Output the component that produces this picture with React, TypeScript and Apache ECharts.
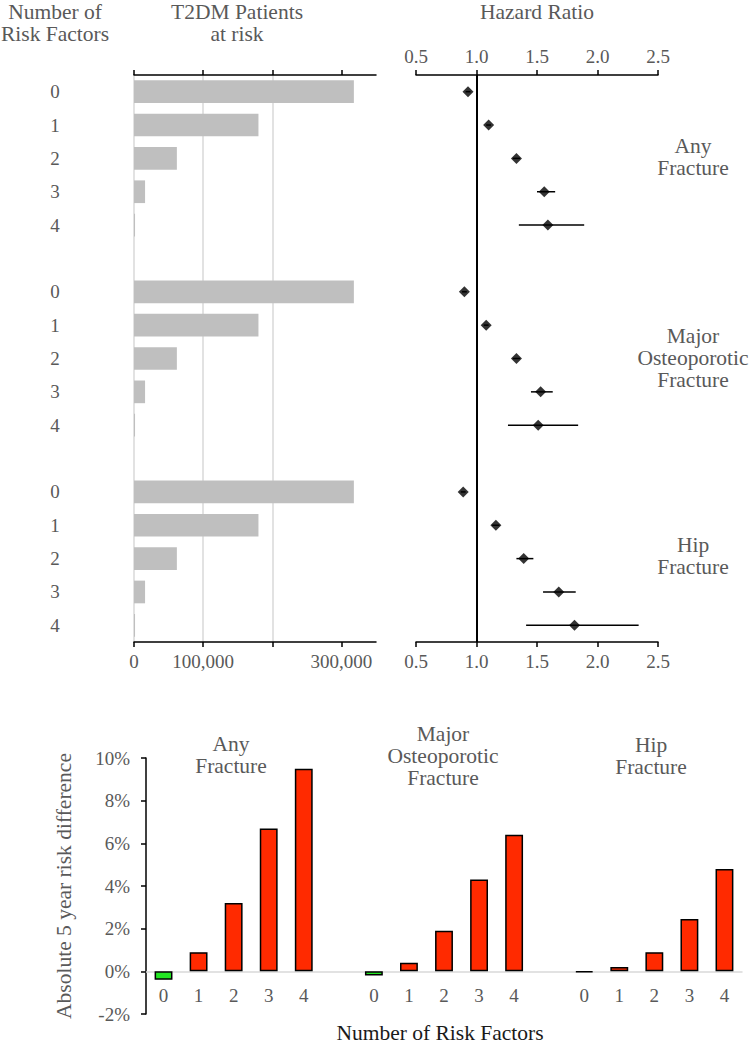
import React, { useEffect, useRef } from "react";
import * as echarts from "echarts";

// ---------- data ----------
const RISK_FACTORS = ["0", "1", "2", "3", "4"];
const OUTCOMES = ["Any\nFracture", "Major\nOsteoporotic\nFracture", "Hip\nFracture"];

// T2DM patients at risk by number of risk factors (same cohort for each outcome)
const PATIENTS_AT_RISK = [318000, 180000, 62000, 16000, 1500];
const PATIENT_TICKS = [0, 100000, 200000, 300000];
const PATIENT_LABELS = [0, 100000, 300000];

// Hazard ratios with 95% CI
const HR_ANY = [0.93, 1.1, 1.33, 1.56, 1.59];
const HR_ANY_LO = [0.91, 1.08, 1.3, 1.5, 1.35];
const HR_ANY_HI = [0.95, 1.12, 1.36, 1.65, 1.89];

const HR_MAJOR = [0.9, 1.08, 1.33, 1.53, 1.51];
const HR_MAJOR_LO = [0.88, 1.06, 1.3, 1.45, 1.26];
const HR_MAJOR_HI = [0.92, 1.1, 1.36, 1.63, 1.84];

const HR_HIP = [0.89, 1.16, 1.39, 1.68, 1.81];
const HR_HIP_LO = [0.87, 1.13, 1.33, 1.55, 1.41];
const HR_HIP_HI = [0.91, 1.19, 1.47, 1.82, 2.34];

// Absolute 5 year risk difference (%)
const RISK_DIFF_ANY = [-0.4, 0.9, 3.2, 6.7, 9.5];
const RISK_DIFF_MAJOR = [-0.2, 0.4, 1.9, 4.3, 6.4];
const RISK_DIFF_HIP = [-0.05, 0.2, 0.9, 2.45, 4.8];
const RISK_DIFF_MIN = -2;
const RISK_DIFF_MAX = 10;

// ---------- derived structures ----------
const HR = [HR_ANY, HR_MAJOR, HR_HIP];
const HR_LO = [HR_ANY_LO, HR_MAJOR_LO, HR_HIP_LO];
const HR_HI = [HR_ANY_HI, HR_MAJOR_HI, HR_HIP_HI];
const RISK_DIFF = [RISK_DIFF_ANY, RISK_DIFF_MAJOR, RISK_DIFF_HIP];

const CATEGORIES: string[] = [];
const CAT_GROUP: number[] = [];
const CAT_RF: number[] = [];
OUTCOMES.forEach((_, g) => {
  RISK_FACTORS.forEach((rf, i) => {
    CATEGORIES.push(`${g}|${rf}`);
    CAT_GROUP.push(g);
    CAT_RF.push(i);
  });
  if (g < OUTCOMES.length - 1) {
    CATEGORIES.push(`gap${g}`);
    CAT_GROUP.push(-1);
    CAT_RF.push(-1);
  }
});
const catLabel = (v: string) => (v.indexOf("|") >= 0 ? v.split("|")[1] : "");

const FONT = "'Liberation Serif', 'Times New Roman', 'DejaVu Serif', serif";
const GRAY = "#595959";

const BOTTOM_GRID_H = 256;

export default function App() {
  const ref = useRef<HTMLDivElement>(null);

  useEffect(() => {
    if (!ref.current) return;
    const chart = echarts.init(ref.current, undefined, { renderer: "svg" });

    const patientsData = CATEGORIES.map((_, k) =>
      CAT_GROUP[k] < 0 ? "-" : PATIENTS_AT_RISK[CAT_RF[k]]
    );
    const hrPoints: any[] = [];
    const hrCI: any[] = [];
    CATEGORIES.forEach((_, k) => {
      const g = CAT_GROUP[k];
      if (g < 0) return;
      const i = CAT_RF[k];
      hrPoints.push([HR[g][i], k]);
      hrCI.push([HR_LO[g][i], HR_HI[g][i], k]);
    });
    const diffData = CATEGORIES.map((_, k) => {
      const g = CAT_GROUP[k];
      if (g < 0) return "-";
      const v = RISK_DIFF[g][CAT_RF[k]];
      return {
        value: v,
        itemStyle: { color: v < 0 ? "#22E622" : "#FF2A00" },
      };
    });

    const tickLabel = { color: GRAY, fontSize: 19, fontFamily: FONT };
    const blackAxis = { show: true, lineStyle: { color: "#000", width: 1.5 } };

    const text = (t: string, x: number, y: number, fill = GRAY) => ({
      type: "text",
      x,
      y,
      silent: true,
      style: {
        text: t,
        fill,
        fontSize: 21.5,
        fontFamily: FONT,
        align: "center",
        verticalAlign: "middle",
        lineHeight: 22,
      },
    });

    // x-axis of the lower chart sits on the zero line
    const zeroOffset = -(BOTTOM_GRID_H * (0 - RISK_DIFF_MIN)) / (RISK_DIFF_MAX - RISK_DIFF_MIN);

    const option: any = {
      animation: false,
      textStyle: { fontFamily: FONT },
      grid: [
        { left: 134, top: 75, width: 242, height: 567 },
        { left: 416, top: 75, width: 242, height: 567 },
        { left: 146, top: 758, width: 596, height: BOTTOM_GRID_H },
      ],
      xAxis: [
        {
          gridIndex: 0,
          type: "value",
          position: "top",
          min: 0,
          max: 350000,
          interval: 100000,
          axisLine: blackAxis,
          axisTick: { show: true, length: 5, customValues: PATIENT_TICKS, lineStyle: { color: "#000", width: 1.5 } },
          axisLabel: { show: false },
          splitLine: { show: true, showMaxLine: false, lineStyle: { color: "#D9D9D9", width: 1.5 } },
        },
        {
          gridIndex: 0,
          type: "value",
          position: "bottom",
          min: 0,
          max: 350000,
          interval: 100000,
          axisLine: blackAxis,
          axisTick: { show: true, length: 5, customValues: PATIENT_TICKS, lineStyle: { color: "#000", width: 1.5 } },
          axisLabel: {
            ...tickLabel,
            margin: 10,
            customValues: PATIENT_LABELS,
            formatter: (v: number) => v.toLocaleString("en-US"),
          },
          splitLine: { show: false },
        },
        {
          gridIndex: 1,
          type: "value",
          position: "top",
          min: 0.5,
          max: 2.5,
          interval: 0.5,
          axisLine: blackAxis,
          axisTick: { show: true, length: 5, lineStyle: { color: "#000", width: 1.5 } },
          axisLabel: { ...tickLabel, margin: 9, formatter: (v: number) => v.toFixed(1) },
          splitLine: { show: false },
        },
        {
          gridIndex: 1,
          type: "value",
          position: "bottom",
          min: 0.5,
          max: 2.5,
          interval: 0.5,
          axisLine: blackAxis,
          axisTick: { show: true, length: 5, lineStyle: { color: "#000", width: 1.5 } },
          axisLabel: { ...tickLabel, margin: 10, formatter: (v: number) => v.toFixed(1) },
          splitLine: { show: false },
        },
        {
          gridIndex: 2,
          type: "category",
          data: CATEGORIES,
          position: "bottom",
          offset: zeroOffset,
          axisLine: { show: true, onZero: false, lineStyle: { color: "#D9D9D9", width: 1.5 } },
          axisTick: { show: false },
          axisLabel: { ...tickLabel, margin: 15, interval: 0, formatter: catLabel },
          splitLine: { show: false },
        },
      ],
      yAxis: [
        {
          gridIndex: 0,
          type: "category",
          data: CATEGORIES,
          inverse: true,
          axisLine: { show: false },
          axisTick: { show: false },
          axisLabel: { ...tickLabel, align: "center", margin: 79, interval: 0, formatter: catLabel },
        },
        {
          gridIndex: 1,
          type: "category",
          data: CATEGORIES,
          inverse: true,
          show: false,
        },
        {
          gridIndex: 2,
          type: "value",
          min: RISK_DIFF_MIN,
          max: RISK_DIFF_MAX,
          interval: 2,
          axisLine: blackAxis,
          axisTick: { show: true, length: 5, lineStyle: { color: "#000", width: 1.5 } },
          axisLabel: { ...tickLabel, margin: 16, formatter: (v: number) => `${v}%` },
          splitLine: { show: false },
          name: "Absolute 5 year risk difference",
          nameLocation: "middle",
          nameRotate: 90,
          nameGap: 71,
          nameTextStyle: { color: GRAY, fontSize: 21.5, fontFamily: FONT },
        },
      ],
      series: [
        {
          type: "bar",
          xAxisIndex: 0,
          yAxisIndex: 0,
          data: patientsData,
          barCategoryGap: "32%",
          itemStyle: { color: "#BFBFBF" },
          silent: true,
        },
        {
          type: "custom",
          xAxisIndex: 2,
          yAxisIndex: 1,
          data: hrCI,
          encode: { x: [0, 1], y: 2 },
          silent: true,
          renderItem: (params: any, api: any) => {
            const y = api.value(2);
            const p1 = api.coord([api.value(0), y]);
            const p2 = api.coord([api.value(1), y]);
            return {
              type: "line",
              shape: { x1: p1[0], y1: p1[1], x2: p2[0], y2: p2[1] },
              style: { stroke: "#000", lineWidth: 1.5 },
            };
          },
        },
        {
          type: "scatter",
          xAxisIndex: 2,
          yAxisIndex: 1,
          data: hrPoints,
          symbol: "diamond",
          symbolSize: [11, 11],
          itemStyle: { color: "#000" },
          silent: true,
          z: 5,
          markLine: {
            silent: true,
            symbol: ["none", "none"],
            label: { show: false },
            lineStyle: { color: "#000", width: 2, type: "solid" },
            data: [{ xAxis: 1 }],
          },
        },
        {
          type: "bar",
          xAxisIndex: 4,
          yAxisIndex: 2,
          data: diffData,
          barCategoryGap: "49%",
          itemStyle: { borderColor: "#000", borderWidth: 1.5 },
          silent: true,
        },
      ],
      graphic: [
        text("Number of\nRisk Factors", 55, 23),
        text("T2DM Patients\nat risk", 237, 23),
        text("Hazard Ratio", 537, 12),
        text(OUTCOMES[0], 693, 157),
        text(OUTCOMES[1], 693, 358),
        text(OUTCOMES[2], 693, 556),
        text(OUTCOMES[0], 231, 755),
        text(OUTCOMES[1], 443, 756),
        text(OUTCOMES[2], 651, 756),
        text("Number of Risk Factors", 440, 1033, "#1A1A1A"),
      ],
    };

    chart.setOption(option);
    return () => chart.dispose();
  }, []);

  return (
    <div
      ref={ref}
      style={{ position: "absolute", left: 0, top: 0, width: 750, height: 1047, background: "#fff" }}
    />
  );
}
